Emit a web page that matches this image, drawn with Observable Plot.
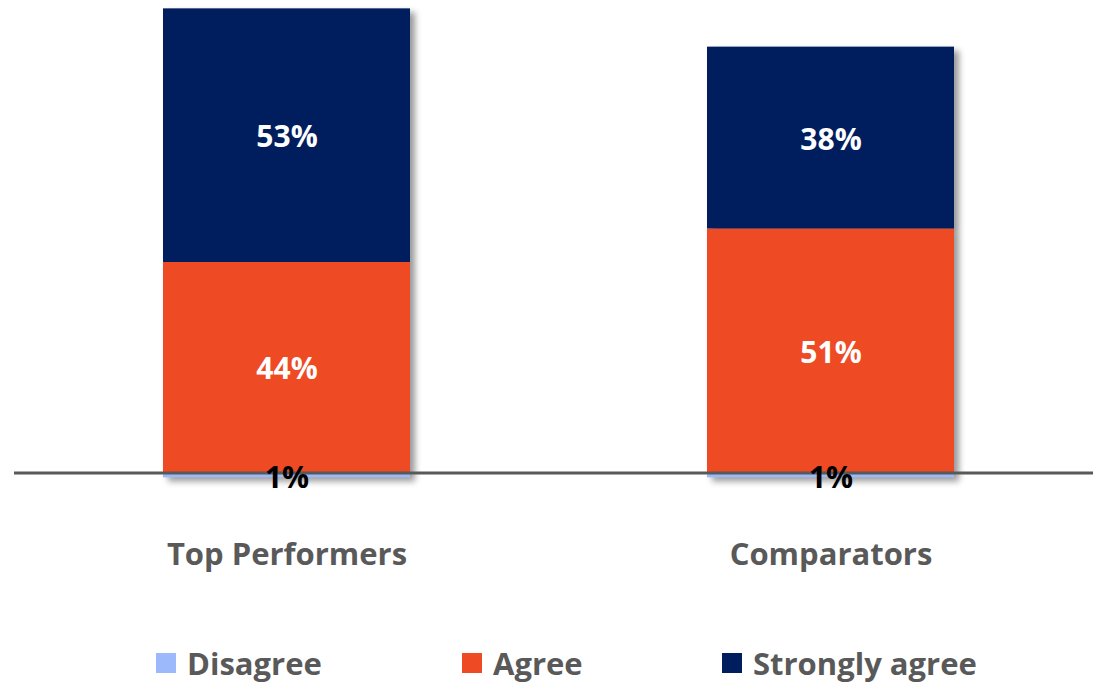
<!DOCTYPE html>
<html>
<head>
<meta charset="utf-8">
<script src="https://cdn.jsdelivr.net/npm/d3@7"></script>
<script src="https://cdn.jsdelivr.net/npm/@observablehq/plot@0.6"></script>
<style>
  html, body { margin: 0; padding: 0; background: #fff; }
  body { width: 1094px; height: 683px; position: relative; overflow: hidden; font-family: "Open Sans", sans-serif; }
  #chart svg { display: block; }
  #chart g[aria-label="bar"] { filter: drop-shadow(5px 4px 3px rgba(0,0,0,0.4)); }
  .legend { position: absolute; top: 644px; left: 0; width: 1094px; height: 38px; }
  .item { position: absolute; top: 0; display: flex; align-items: center; height: 38px; font-weight: 700; font-size: 31px; color: #595959; }
  .sw { width: 20px; height: 20px; margin-right: 11px; }
</style>
</head>
<body>
<div id="chart"></div>
<div class="legend" id="legend"></div>
<script>
const groups = ["Top Performers", "Comparators"];
const responses = ["Disagree", "Agree", "Strongly agree"];
const colors = ["#9CBAFB", "#EE4A23", "#001E5E"];
const disagree = [-1, -1];
const agree = [44, 51];
const stronglyAgree = [53, 38];

const seriesValues = [disagree, agree, stronglyAgree];
const data = [];
responses.forEach((r, i) => {
  groups.forEach((g, j) => data.push({group: g, response: r, value: seriesValues[i][j]}));
});

const font = "Open Sans, sans-serif";
const W = 1094, H = 600, ML = 14, MR = 1, MT = 8.35, MB = 122.65;

const chart = Plot.plot({
  width: W,
  height: H,
  marginLeft: ML,
  marginRight: MR,
  marginTop: MT,
  marginBottom: MB,
  style: {fontFamily: font, background: "transparent"},
  x: {domain: groups, paddingInner: 0.546, paddingOuter: 0.2647, align: 0.517, label: null},
  y: {domain: [-1, 97], axis: null},
  color: {domain: responses, range: colors},
  marks: [
    Plot.barY(data, Plot.stackY({x: "group", y: "value", fill: "response", order: responses})),
    Plot.ruleY([0], {stroke: "#595959", strokeWidth: 3}),
    Plot.text(data.filter(d => d.value > 0), Plot.stackY({
      x: "group", y: "value", z: "response", order: responses,
      text: d => `${Math.abs(d.value)}%`,
      fill: "#FFFFFF", dy: 2,
      fontSize: 30, fontWeight: 700, fontFamily: font
    })),
    Plot.text(data.filter(d => d.value < 0), Plot.stackY({
      x: "group", y: "value", z: "response",
      text: d => `${Math.abs(d.value)}%`,
      fill: "#000000", dy: 3,
      fontSize: 30, fontWeight: 700, fontFamily: font
    })),
    Plot.axisX({tickSize: 0, tickPadding: 65, fontSize: 31, fontWeight: 700, fill: "#595959", label: null, fontFamily: font})
  ]
});
document.getElementById("chart").appendChild(chart);

// legend
const legendX = [156, 462, 722];
const legend = document.getElementById("legend");
responses.forEach((r, i) => {
  const it = document.createElement("div");
  it.className = "item";
  it.style.left = legendX[i] + "px";
  const sw = document.createElement("div");
  sw.className = "sw";
  sw.style.background = colors[i];
  const t = document.createElement("span");
  t.textContent = r;
  it.appendChild(sw); it.appendChild(t);
  legend.appendChild(it);
});
</script>
</body>
</html>
